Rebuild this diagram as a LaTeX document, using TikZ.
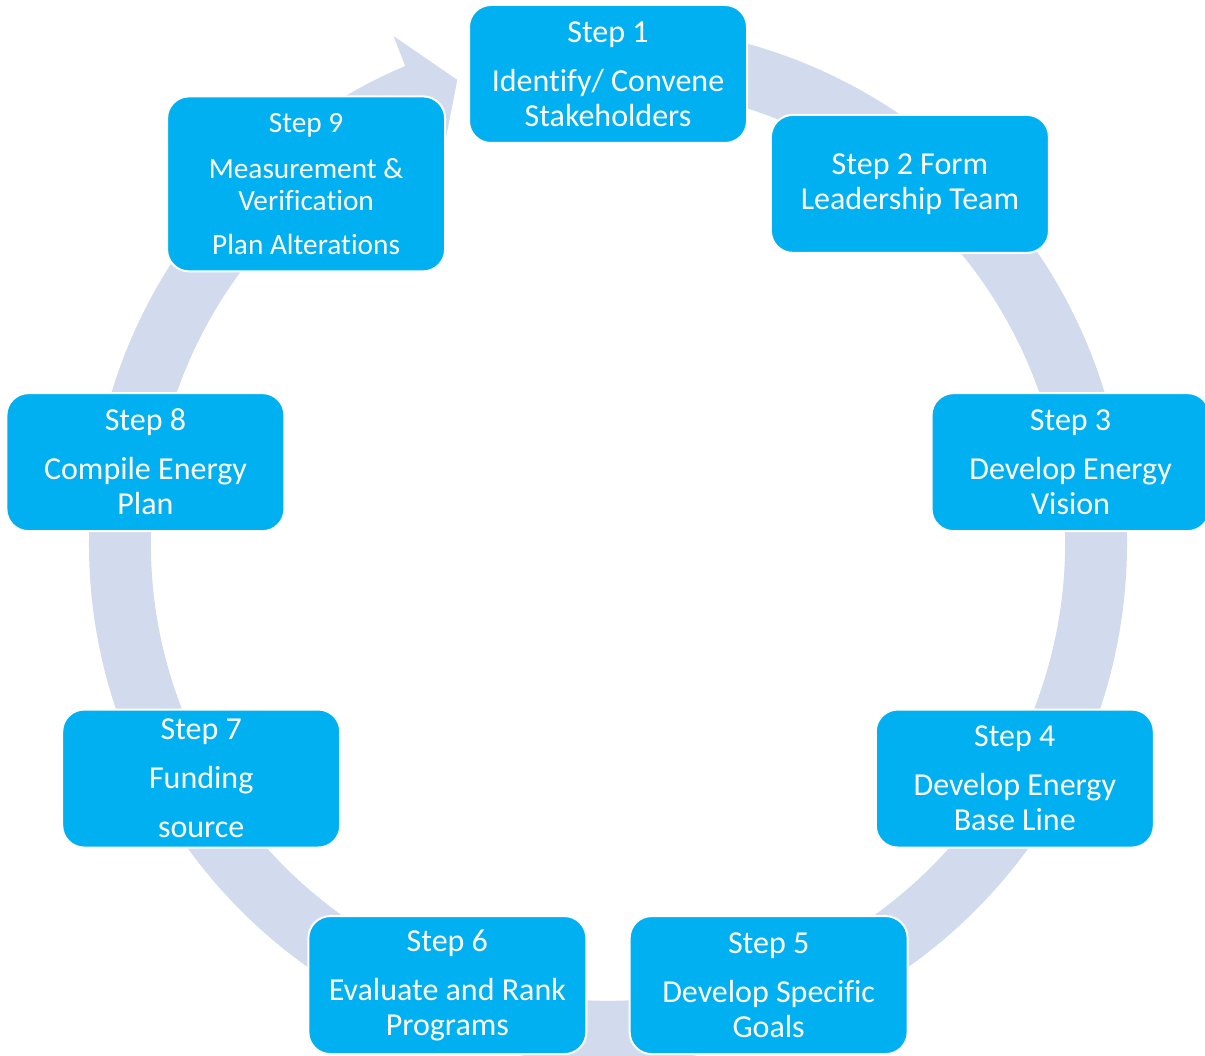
\documentclass[tikz,border=0pt]{standalone}
\usepackage{fontspec}
\setmainfont{Carlito}[Ligatures=NoCommon]
\definecolor{boxcyan}{RGB}{0,176,240}
\definecolor{ringblue}{RGB}{209,219,237}
\begin{document}
\begin{tikzpicture}[x=1pt,y=1pt,
  stepbox/.style={draw=white, line width=2pt, fill=boxcyan, rounded corners=22pt,
    minimum width=278pt, minimum height=138pt, text=white, align=center,
    font=\fontsize{32}{35}\selectfont, inner sep=0pt}]
\useasboundingbox (0,0) rectangle (1205,-1056);
\coordinate (c) at (608,-543.7);
\fill[ringblue] ([shift={(c)}]85:519) arc[start angle=85,end angle=-247,radius=519]
  -- ([shift={(c)}]-247.1:551) -- ([shift={(c)}]-252:487.7)
  -- ([shift={(c)}]-247.1:424) -- ([shift={(c)}]-247:457)
  arc[start angle=-247,end angle=85,radius=457] -- cycle;
\node[stepbox] (s1) at ([shift={(c)}]90:469.7) {Step 1\\[14pt]Identify/ Convene\\Stakeholders};
\node[stepbox] (s2) at ([shift={(c)}]50:469.7) {Step 2 Form\\Leadership Team};
\node[stepbox] (s3) at ([shift={(c)}]10:469.7) {Step 3\\[14pt]Develop Energy\\Vision};
\node[stepbox] (s4) at ([shift={(c)}]-30:469.7) {Step 4\\[14pt]Develop Energy\\Base Line};
\node[stepbox] (s5) at ([shift={(c)}]-70:469.7) {Step 5\\[14pt]Develop Specific\\Goals};
\node[stepbox] (s6) at ([shift={(c)}]-110:469.7) {Step 6\\[14pt]Evaluate and Rank\\Programs};
\node[stepbox] (s7) at ([shift={(c)}]-150:469.7) {Step 7\\[14pt]Funding\\[14pt]source};
\node[stepbox] (s8) at ([shift={(c)}]170:469.7) {Step 8\\[14pt]Compile Energy\\Plan};
\node[stepbox, minimum height=175pt, font=\fontsize{29.3}{32}\selectfont] (s9) at ([shift={(c)}]130:469.7)
  {Step 9\\[14pt]Measurement \&\\Verification\\[12pt]Plan Alterations};
\end{tikzpicture}
\end{document}
